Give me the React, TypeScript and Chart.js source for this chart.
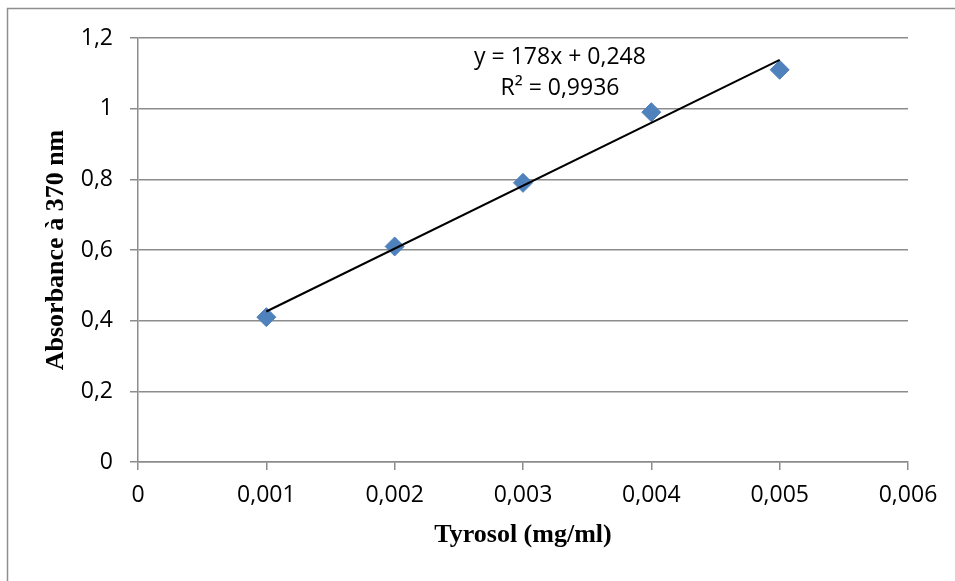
import React, { useEffect, useRef } from "react";
import { Chart, registerables } from "chart.js";

Chart.register(...registerables);

// Data
const concentrations = [0.001, 0.002, 0.003, 0.004, 0.005];
const absorbances = [0.41, 0.61, 0.79, 0.99, 1.11];

// Linear trendline shown on the chart
const slope = 178;
const intercept = 0.248;
const trendX = [0.001, 0.005];

const xTickLabels = ["0", "0,001", "0,002", "0,003", "0,004", "0,005", "0,006"];
const yTickLabels = ["0", "0,2", "0,4", "0,6", "0,8", "1", "1,2"];

const equationLines = ["y = 178x + 0,248", "R² = 0,9936"];

const xTitle = "Tyrosol (mg/ml)";
const yTitle = "Absorbance à 370 nm";

const TICK_FONT = "'Open Sans', 'Liberation Sans', sans-serif";
const TITLE_FONT = "'Liberation Serif', 'Times New Roman', serif";

export default function App() {
  const ref = useRef<HTMLCanvasElement | null>(null);

  useEffect(() => {
    if (!ref.current) return;

    const framePlugin = {
      id: "frame",
      beforeDraw(chart: any) {
        const ctx = chart.ctx;
        ctx.save();
        ctx.fillStyle = "#ffffff";
        ctx.fillRect(0, 0, chart.width, chart.height);
        ctx.strokeStyle = "#8f8f8f";
        ctx.lineWidth = 1.5;
        ctx.beginPath();
        ctx.moveTo(7.5, chart.height);
        ctx.lineTo(7.5, 8.5);
        ctx.lineTo(chart.width, 8.5);
        ctx.stroke();
        ctx.restore();
      },
    };

    const equationPlugin = {
      id: "equation",
      afterDatasetsDraw(chart: any) {
        const ctx = chart.ctx;
        const xs = chart.scales.x;
        const ys = chart.scales.y;
        ctx.save();
        ctx.fillStyle = "#000";
        ctx.font = `23px ${TICK_FONT}`;
        ctx.textAlign = "center";
        ctx.textBaseline = "middle";
        const cx = xs.getPixelForValue(0.003288);
        ctx.fillText(equationLines[0], cx, ys.getPixelForValue(1.146));
        ctx.fillText(equationLines[1], cx, ys.getPixelForValue(1.058));
        ctx.restore();
      },
    };

    const chart = new Chart(ref.current, {
      type: "scatter",
      data: {
        datasets: [
          {
            type: "line",
            label: "Linéaire",
            data: trendX.map((x) => ({ x, y: slope * x + intercept })),
            borderColor: "#000000",
            borderWidth: 2,
            pointRadius: 0,
            fill: false,
          } as any,
          {
            label: "Tyrosol",
            data: concentrations.map((x, i) => ({ x, y: absorbances[i] })),
            backgroundColor: "#4F81BD",
            borderColor: "#4F81BD",
            borderWidth: 1,
            pointStyle: "rectRot",
            pointRadius: 9.5,
          },
        ],
      },
      plugins: [framePlugin, equationPlugin],
      options: {
        animation: false,
        responsive: false,
        devicePixelRatio: 1,
        layout: { padding: { left: 0, top: 38, right: 47, bottom: 0 } },
        plugins: {
          legend: { display: false },
          tooltip: { enabled: false },
        },
        scales: {
          x: {
            type: "linear",
            min: 0,
            max: 0.006,
            afterFit(scale: any) {
              scale.height = 119;
            },
            ticks: {
              stepSize: 0.001,
              color: "#000",
              padding: 12,
              font: { family: TICK_FONT, size: 23 },
              callback: (_v: any, i: number) => xTickLabels[i],
              maxRotation: 0,
            },
            grid: {
              drawOnChartArea: false,
              drawTicks: true,
              tickLength: 8,
              color: "#8c8c8c",
              lineWidth: 1.5,
            },
            border: { display: true, color: "#8c8c8c", width: 1.5 },
            title: {
              display: true,
              text: xTitle,
              color: "#000",
              font: { family: TITLE_FONT, size: 26, weight: "bold" },
              padding: { top: 0, bottom: 30 },
            },
          },
          y: {
            type: "linear",
            min: 0,
            max: 1.2,
            afterFit(scale: any) {
              scale.width = 138;
            },
            ticks: {
              stepSize: 0.2,
              color: "#000",
              padding: 17,
              font: { family: TICK_FONT, size: 23 },
              callback: (_v: any, i: number) => yTickLabels[i],
            },
            grid: {
              drawTicks: true,
              tickLength: 8,
              color: "#8c8c8c",
              lineWidth: 1.5,
            },
            border: { display: true, color: "#8c8c8c", width: 1.5 },
            title: {
              display: true,
              text: yTitle,
              color: "#000",
              font: { family: TITLE_FONT, size: 26, weight: "bold" },
              padding: { top: 41, bottom: 0 },
            },
          },
        },
      },
    });

    return () => chart.destroy();
  }, []);

  return (
    <div style={{ position: "absolute", left: 0, top: 0, width: 955, height: 581, background: "#fff" }}>
      <canvas ref={ref} width={955} height={581} style={{ display: "block" }} />
    </div>
  );
}
